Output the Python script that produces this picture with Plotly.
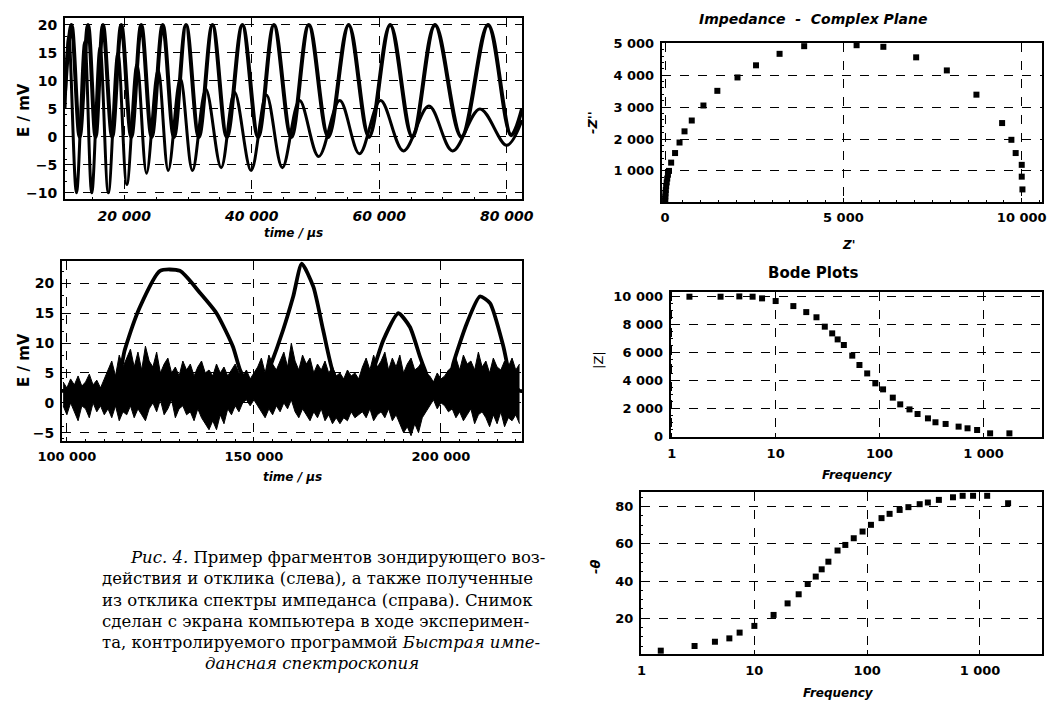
import plotly.graph_objects as go

# ---------------- data ----------------
# top-left: probing signal (chirp) and response, extrema
exc1_t = [10700, 11720, 13000, 14310, 15500, 16660, 18100, 19530, 21100, 22660, 24300, 26030, 27800,
          29690, 31700, 33840, 36100, 38530, 41000, 43480, 46200, 48950, 52000, 55200, 58400, 61720,
          65200, 68750, 72900, 77080, 80700, 82400]
exc1_v = [8, 20, 0, 20, 0, 20, 0, 20, 0, 20, 0, 20, 0,
          20, 0, 20, 0, 20, 0, 20, 0, 20, 0, 20, 0, 20,
          0, 20, 0, 20, 0.3, 5]
resp1_t = [10700, 11300, 12500, 13800, 14900, 16200, 17500, 19000, 20400, 22000, 23500, 25300, 26900,
           28800, 30700, 32800, 35200, 37300, 39900, 42300, 44800, 47500, 50500, 53800, 56900, 60200,
           63800, 67800, 71500, 75800, 80000, 82400]
resp1_v = [5, 18, -10, 17, -10, 16, -10, 15, -8.5, 13, -6.5, 12, -6,
           10.5, -6, 8.5, -5.5, 8, -6, 7.5, -5.5, 6.5, -3.5, 6.5, -3, 6.5,
           -2.5, 5.5, -2.5, 5, -1.5, 3]

# bottom-left: pulse excitation and noisy response band (upper / lower envelope of the noise)
exc2_t = [98700, 113000, 115500, 119500, 124900, 130200, 135600, 140000, 144400, 146300, 149000, 152000,
          154300, 157800, 160500, 162800, 165900, 168500, 171200, 174000, 179500, 181900, 184600,
          188600, 191700, 194400, 195700, 198000, 201500, 203300, 206900, 210400, 213100, 216700,
          218500, 221000, 222200]
exc2_v = [2, 3, 8.9, 16, 22.1, 22.1, 18.4, 15, 9.4, 5.5, 2.5, 2.5,
          6, 12.2, 17.8, 23.3, 19.4, 12.2, 5, 2, 2, 5.5, 10.5,
          15, 12.7, 7.7, 5.5, 2, 2, 6.6, 13.3, 17.8, 16.7, 9.4,
          4.4, 2, 2]
noise_t = [99000, 100000, 101000, 102000, 103000, 104000, 105000, 106000, 107000, 108000,
           109000, 110000, 111000, 112000, 113000, 114000, 115000, 116000, 117000, 118000,
           119000, 120000, 121000, 122000, 123000, 124000, 125000, 126000, 127000, 128000,
           129000, 130000, 131000, 132000, 133000, 134000, 135000, 136000, 137000, 138000,
           139000, 140000, 141000, 142000, 143000, 144000, 145000, 146000, 147000, 148000,
           149000, 150000, 151000, 152000, 153000, 154000, 155000, 156000, 157000, 158000,
           159000, 160000, 161000, 162000, 163000, 164000, 165000, 166000, 167000, 168000,
           169000, 170000, 171000, 172000, 173000, 174000, 175000, 176000, 177000, 178000,
           179000, 180000, 181000, 182000, 183000, 184000, 185000, 186000, 187000, 188000,
           189000, 190000, 191000, 192000, 193000, 194000, 195000, 196000, 197000, 198000,
           199000, 200000, 201000, 202000, 203000, 204000, 205000, 206000, 207000, 208000,
           209000, 210000, 211000, 212000, 213000, 214000, 215000, 216000, 217000, 218000,
           219000, 220000, 221000]
noise_hi = [3.5, 2.5, 4.0, 3.0, 4.5, 2.8, 3.5, 4.8, 3.0, 3.8, 2.5, 4.0,
            5.5, 7.0, 4.5, 8.0, 6.0, 7.5, 9.0, 6.0, 8.5, 5.5, 9.5, 7.0,
            6.0, 8.5, 5.0, 6.5, 7.5, 5.0, 6.0, 4.5, 7.0, 5.5, 6.5, 4.5,
            6.0, 7.0, 5.0, 5.5, 4.5, 6.5, 5.0, 6.0, 4.5, 5.5, 6.5, 5.0,
            4.5, 5.5, 4.0, 5.0,
            6.0, 7.5, 5.0, 8.0, 6.5, 5.5, 7.0, 8.5, 6.0, 10.0, 7.0, 5.5,
            8.0, 6.5, 7.5, 5.0, 6.5, 5.5, 7.0, 5.0, 6.0, 4.5,
            5.0, 4.0, 5.5, 4.5, 5.0, 4.0,
            6.0, 7.5, 5.5, 8.0, 6.0, 7.0, 8.5, 5.5, 7.5, 6.0, 8.0, 5.0,
            6.5, 7.5, 5.5, 6.0, 7.0, 5.0,
            4.5, 3.5, 5.0, 4.0, 4.5, 5.5,
            6.0, 7.5, 5.5, 8.0, 6.5, 7.0, 5.5, 8.5, 6.0, 7.0, 5.0, 7.5,
            6.0, 5.5, 7.0, 6.0, 7.5, 5.5, 6.5]
noise_lo = [-0.5, -2.0, 0.0, -1.5, -3.0, -0.5, -1.0, -2.5, 0.0, -1.5, -0.5, -2.0,
            -1.0, -2.5, -0.5, -3.0, -1.5, -2.0, -0.5, -2.5, -1.0, -2.0, -3.0, -1.0,
            0.0, -1.5, 0.5, -2.0, -1.0, 0.5, -2.5, -1.0, -0.5, -2.0, -1.5, -3.0,
            -1.0, -2.5, -3.5, -4.5, -3.0, -4.5, -2.0, -3.5, -1.0, -2.0, -0.5, -1.5,
            0.0, 0.5, -0.5, 0.5,
            -0.5, -1.5, -2.5, -1.0, -2.0, -0.5, -1.5, 0.0, -1.0, 0.5, -1.5, -2.5,
            -1.0, -2.0, -3.0, -1.5, -2.5, -1.0, -3.0, -2.0, -3.5, -2.5,
            -3.5, -2.5, -3.0, -1.5, -2.5, -2.0,
            -1.5, -2.5, -1.0, -3.0, -2.0, -1.5, -2.5, -1.0, -3.0, -2.0, -3.5, -5.0,
            -4.0, -5.5, -3.5, -5.0, -2.5, -1.5,
            -0.5, 0.5, -1.0, 0.0, -0.5, -1.5,
            -1.0, -2.5, -1.5, -3.0, -2.0, -1.0, -3.5, -2.0, -1.5, -2.5, -4.0, -2.0,
            -3.5, -1.5, -4.0, -2.5, -3.0, -2.0, -3.5]

# impedance complex plane
z_re = [10020, 10000, 10000, 9830, 9710, 9450, 8730, 7900, 7040, 6120, 5370, 4700, 3900, 3210, 2550,
        2030, 1465, 1075, 748, 545, 405, 280, 170, 110, 80, 60, 45, 30, 20, 12, 6, 3, 1]
z_im = [420, 820, 1190, 1560, 1975, 2500, 3390, 4150, 4560, 4890, 4940, 5010, 4910, 4670, 4310,
        3930, 3510, 3050, 2580, 2240, 1890, 1560, 1260, 1000, 880, 760, 640, 520, 400, 300, 200, 120, 60]

# Bode plots
freq = [1.48, 2.95, 4.47, 6.0, 7.4, 10.0, 14.8, 19.7, 24.7, 29.7, 35.0, 39.5, 45.3, 54.6, 64,
        76, 91, 108, 134, 158, 194, 232, 292, 345, 432, 576, 702, 868, 1158, 1775]
z_mod = [10000, 10000, 10020, 10000, 9880, 9690, 9330, 8900, 8530, 7860, 7380, 6950, 6550, 5790, 5120,
         4520, 3810, 3380, 2790, 2310, 1950, 1620, 1310, 1030, 910, 720, 600, 480, 240, 240]
phase = [2.6, 5.1, 7.4, 9.2, 12.3, 15.9, 21.8, 28, 32.9, 38.4, 42.4, 46.3, 50.4, 56.4, 59.4,
         63, 66.6, 70.2, 73.8, 76.1, 78.2, 79.7, 81.3, 82.2, 83.6, 85, 85.8, 85.8, 85.8, 81.8]

# tick labels
tl_xvals = [20000, 40000, 60000, 80000]
tl_xtext = ["20 000", "40 000", "60 000", "80 000"]
tl_yvals = [-10, -5, 0, 5, 10, 15, 20]
bl_xvals = [100000, 150000, 200000]
bl_xtext = ["100 000", "150 000", "200 000"]
bl_yvals = [-5, 0, 5, 10, 15, 20]
imp_xvals = [0, 5000, 10000]
imp_xtext = ["0", "5 000", "10 000"]
imp_yvals = [1000, 2000, 3000, 4000, 5000]
imp_ytext = ["1 000", "2 000", "3 000", "4 000", "5 000"]
bode_xvals = [1, 10, 100, 1000]
bode_xtext = ["1", "10", "100", "1 000"]
zmod_yvals = [0, 2000, 4000, 6000, 8000, 10000]
zmod_ytext = ["0", "2 000", "4 000", "6 000", "8 000", "10 000"]
ph_yvals = [20, 40, 60, 80]

caption = [
    "<i>Рис. 4.</i> Пример фрагментов зондирующего воз-",
    "действия и отклика (слева), а также полученные",
    "из отклика спектры импеданса (справа). Снимок",
    "сделан с экрана компьютера в ходе эксперимен-",
    "та, контролируемого программой <i>Быстрая импе-</i>",
    "<i>дансная спектроскопия</i>",
]

# ---------------- figure ----------------
W, H = 1048, 703
fx = lambda p: p / W
fy = lambda p: 1 - p / H

fig = go.Figure()

fig.add_trace(go.Scatter(x=resp1_t, y=resp1_v, mode="lines", line=dict(color="black", width=3, shape="spline", smoothing=1.0),
                         xaxis="x", yaxis="y"))
fig.add_trace(go.Scatter(x=exc1_t, y=exc1_v, mode="lines", line=dict(color="black", width=4, shape="spline", smoothing=1.0),
                         xaxis="x", yaxis="y"))

fig.add_trace(go.Scatter(x=noise_t, y=noise_lo, mode="lines", line=dict(color="black", width=1),
                         xaxis="x2", yaxis="y2"))
fig.add_trace(go.Scatter(x=noise_t, y=noise_hi, mode="lines", line=dict(color="black", width=1),
                         fill="tonexty", fillcolor="black", xaxis="x2", yaxis="y2"))
fig.add_trace(go.Scatter(x=exc2_t, y=exc2_v, mode="lines", line=dict(color="black", width=3.8, shape="spline", smoothing=0.6),
                         xaxis="x2", yaxis="y2"))

mk = dict(symbol="square", size=6, color="black")
fig.add_trace(go.Scatter(x=z_re, y=z_im, mode="markers", marker=mk, cliponaxis=False, xaxis="x3", yaxis="y3"))
fig.add_trace(go.Scatter(x=freq, y=z_mod, mode="markers", marker=mk, cliponaxis=False, xaxis="x4", yaxis="y4"))
fig.add_trace(go.Scatter(x=freq, y=phase, mode="markers", marker=mk, cliponaxis=False, xaxis="x5", yaxis="y5"))


def ax(domain, rng, tickvals, ticktext=None, size=13, italic=False, log=False, anchor=None):
    d = dict(domain=domain, range=rng, tickmode="array", tickvals=tickvals, automargin=False,
             showline=True, mirror=True, linecolor="black", linewidth=2,
             showgrid=True, gridcolor="black", griddash="dash", gridwidth=1,
             zeroline=False, ticks="inside", ticklen=4, tickcolor="black",
             minor=dict(ticks="inside", ticklen=2, tickcolor="black", showgrid=False),
             tickfont=dict(family="DejaVu Sans", size=size, color="black", weight="bold",
                           style="italic" if italic else "normal"),
             ticklabelstandoff=3, anchor=anchor, fixedrange=True)
    if ticktext is not None:
        d["ticktext"] = ticktext
    if log:
        d["type"] = "log"
        d.pop("minor")
    return d


layout = dict(
    width=W, height=H, margin=dict(l=0, r=0, t=0, b=0, autoexpand=False),
    paper_bgcolor="white", plot_bgcolor="white", showlegend=False,
    xaxis=ax([fx(65), fx(522)], [10700, 82400], tl_xvals, tl_xtext, size=14, italic=True, anchor="y"),
    yaxis=ax([fy(199), fy(18)], [-11.1, 21.25], tl_yvals, size=14, anchor="x"),
    xaxis2=ax([fx(62), fx(522)], [98700, 221660], bl_xvals, bl_xtext, anchor="y2"),
    yaxis2=ax([fy(440.7), fy(260.7)], [-6.34, 23.8], bl_yvals, size=14, anchor="x2"),
    xaxis3=ax([fx(661.7), fx(1041.7)], [-95, 10560], imp_xvals, imp_xtext, anchor="y3"),
    yaxis3=ax([fy(201.7), fy(43.3)], [35, 5000], imp_yvals, imp_ytext, anchor="x3"),
    xaxis4=ax([fx(670.7), fx(1041.7)], [-0.01, 3.56], bode_xvals, bode_xtext, log=True, anchor="y4"),
    yaxis4=ax([fy(437.3), fy(291.7)], [-43, 10357], zmod_yvals, zmod_ytext, anchor="x4"),
    xaxis5=ax([fx(641), fx(1041.7)], [-0.005, 3.547], bode_xvals, bode_xtext, log=True, anchor="y5"),
    yaxis5=ax([fy(654.3), fy(491.7)], [0.65, 88], ph_yvals, anchor="x5"),
)
fig.update_layout(**layout)


def note(text, x, y, size=13, italic=False, angle=0, xanchor="center", family="DejaVu Sans", weight="bold"):
    fig.add_annotation(text=text, x=fx(x), y=fy(y), xref="paper", yref="paper", showarrow=False,
                       xanchor=xanchor, yanchor="middle", textangle=angle,
                       font=dict(family=family, size=size, color="black", weight=weight,
                                 style="italic" if italic else "normal"))


# axis titles
note("E / mV", 24, 110, size=15, angle=-90)
note("time / µs", 293, 233, size=12, italic=True)
note("E / mV", 24, 360, size=15, angle=-90)
note("time / µs", 292, 477, size=12, italic=True)
note("Impedance  -  Complex Plane", 813, 19, size=14, italic=True)
note("-Z''", 592, 123, size=13, italic=True, angle=-90)
note("Z'", 848, 245, size=12, italic=True)
note("Bode Plots", 813, 273, size=15)
note("|Z|", 598, 360, size=13, angle=-90, weight="normal")
note("Frequency", 857, 475, size=12, italic=True)
note("-θ", 595, 567, size=13, italic=True, angle=-90)
note("Frequency", 838, 693, size=12, italic=True)

# caption
cap_x = [128, 100, 100, 100, 100]
cap_y = [557, 578.5, 600, 621.5, 642, 663]
for i, line in enumerate(caption):
    if i < 5:
        note(line, cap_x[i], cap_y[i], size=16.5, family="DejaVu Serif", weight="normal", xanchor="left")
    else:
        note(line, 312, cap_y[i], size=16.5, family="DejaVu Serif", weight="normal")

fig.write_html("out.html", config={"displayModeBar": False},
               post_script="document.body.style.margin='0';document.body.style.overflow='hidden';")
